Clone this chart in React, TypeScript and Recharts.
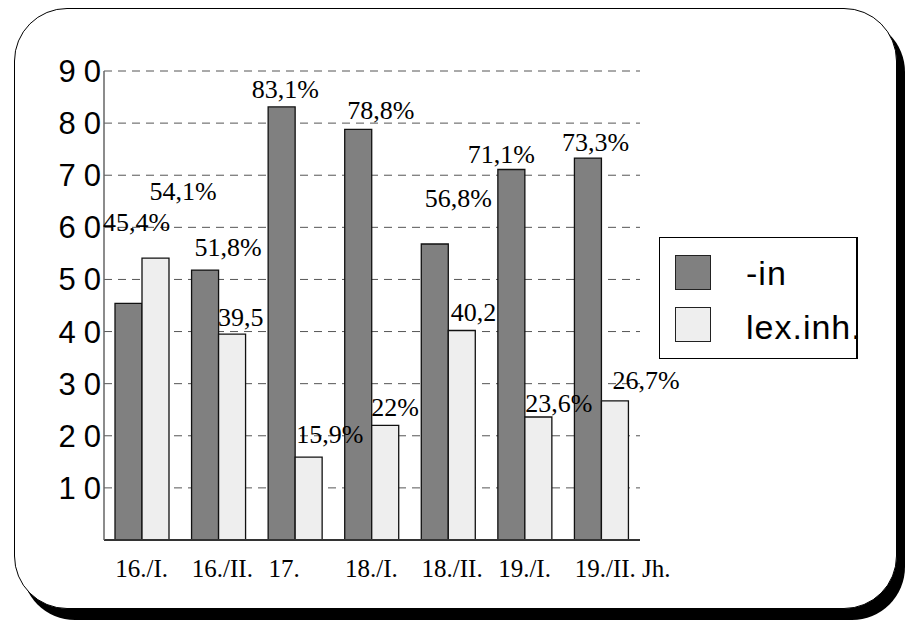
import { BarChart, Bar, XAxis, YAxis, CartesianGrid, Legend } from 'recharts'

const periods = ['16./I.', '16./II.', '17.', '18./I.', '18./II.', '19./I.', '19./II.']
const centuryUnit = 'Jh.'
const inShare = [45.4, 51.8, 83.1, 78.8, 56.8, 71.1, 73.3]
const lexShare = [54.1, 39.5, 15.9, 22, 40.2, 23.6, 26.7]
const inLabels = ['45,4%', '51,8%', '83,1%', '78,8%', '56,8%', '71,1%', '73,3%']
const lexLabels = ['54,1%', '39,5', '15,9%', '22%', '40,2', '23,6%', '26,7%']
const yTicks = [10, 20, 30, 40, 50, 60, 70, 80, 90]

// label placement of the original (left edge from bar centre, baseline from bar top)
const inShiftX = [-25.5, -10.5, -30, -11, -10, -43.5, -26]
const inShiftY = [-72.5, -14, -9, -10, -37, -6, -7]
const lexShiftX = [-6, -14, -12.5, -14, -11, -13, -2.5]
const lexShiftY = [-58, -8, -14, -9, -10, -5, -11.5]

const DARK = '#808080'
const LIGHT = '#eeeeee'
const SERIF = '"Liberation Serif", "Times New Roman", serif'
const SANS = '"Liberation Sans", Arial, sans-serif'

const data = periods.map((p, i) => ({ period: p, in: inShare[i], lex: lexShare[i] }))

function makeLabel(texts: string[], sx: number[], sy: number[]) {
  return (props: any) => {
    const { x, y, width, index } = props
    return (
      <text
        x={x + width / 2 + sx[index]}
        y={y + sy[index]}
        style={{ fontFamily: SERIF, fontSize: 26 }}
        fill="#000"
        textAnchor="start"
      >
        {texts[index]}
      </text>
    )
  }
}

function XTick({ x, y, payload, index }: any) {
  const last = index === periods.length - 1
  return (
    <text x={x - 27} y={y + 37} style={{ fontFamily: SERIF, fontSize: 25 }} fill="#000" textAnchor="start">
      {payload.value + (last ? ' ' + centuryUnit : '')}
    </text>
  )
}

function YTick({ x, y, payload }: any) {
  return (
    <text
      x={x + 5}
      y={y + 11}
      style={{ fontFamily: SANS, fontSize: 31, letterSpacing: 8 }}
      fill="#000"
      textAnchor="end"
    >
      {payload.value}
    </text>
  )
}

function LegendBox() {
  const items = [
    { name: '-in', color: DARK },
    { name: 'lex.inh.', color: LIGHT },
  ]
  return (
    <div style={{ position: 'relative', width: 199, height: 122, background: '#fff' }}>
      {items.map((it, i) => (
        <div key={it.name}>
          <div
            style={{
              position: 'absolute',
              left: 16,
              top: 18 + i * 52,
              width: 36,
              height: 35,
              boxSizing: 'border-box',
              border: '1px solid #222',
              background: it.color,
            }}
          />
          <div
            style={{
              position: 'absolute',
              left: 87,
              top: 19 + i * 54,
              fontFamily: SANS,
              fontSize: 34,
              lineHeight: '34px',
              letterSpacing: 1,
              whiteSpace: 'nowrap',
              color: '#000',
            }}
          >
            {it.name}
          </div>
        </div>
      ))}
      <div
        style={{
          position: 'absolute',
          inset: 0,
          boxSizing: 'border-box',
          border: '1.5px solid #000',
          borderRightWidth: 2.5,
        }}
      />
    </div>
  )
}

export default function App() {
  return (
    <div style={{ position: 'absolute', left: 0, top: 0, width: 909, height: 621, background: '#fff', overflow: 'hidden' }}>
      <div
        style={{
          position: 'absolute',
          left: 14,
          top: 8,
          width: 883,
          height: 601,
          boxSizing: 'border-box',
          border: '1.5px solid #000',
          borderRadius: 53,
          boxShadow: '8px 11px 0 #000',
          background: '#fff',
        }}
      />
      <div style={{ position: 'absolute', left: 0, top: 0 }}>
        <BarChart
          width={909}
          height={621}
          data={data}
          margin={{ top: 71, right: 269, bottom: 0, left: 0 }}
          barSize={27}
          barGap={0}
          barCategoryGap={11}
        >
          <CartesianGrid horizontal vertical={false} stroke="#555" strokeDasharray="8 6" />
          <XAxis
            dataKey="period"
            height={81}
            tickSize={0}
            tickMargin={0}
            tickLine={false}
            axisLine={{ stroke: '#333', strokeWidth: 2 }}
            tick={<XTick />}
            interval={0}
          />
          <YAxis
            width={104}
            domain={[0, 90]}
            ticks={yTicks}
            tickSize={0}
            tickMargin={0}
            tickLine={false}
            axisLine={{ stroke: '#666', strokeWidth: 1.5 }}
            tick={<YTick />}
          />
          <Legend
            layout="vertical"
            align="center"
            verticalAlign="middle"
            wrapperStyle={{ left: 659, top: 237, width: 199, height: 122 }}
            content={() => <LegendBox />}
          />
          <Bar
            dataKey="in"
            name="-in"
            fill={DARK}
            stroke="#111"
            strokeWidth={1.3}
            isAnimationActive={false}
            label={makeLabel(inLabels, inShiftX, inShiftY)}
          />
          <Bar
            dataKey="lex"
            name="lex.inh."
            fill={LIGHT}
            stroke="#111"
            strokeWidth={1.3}
            isAnimationActive={false}
            label={makeLabel(lexLabels, lexShiftX, lexShiftY)}
          />
        </BarChart>
      </div>
    </div>
  )
}
